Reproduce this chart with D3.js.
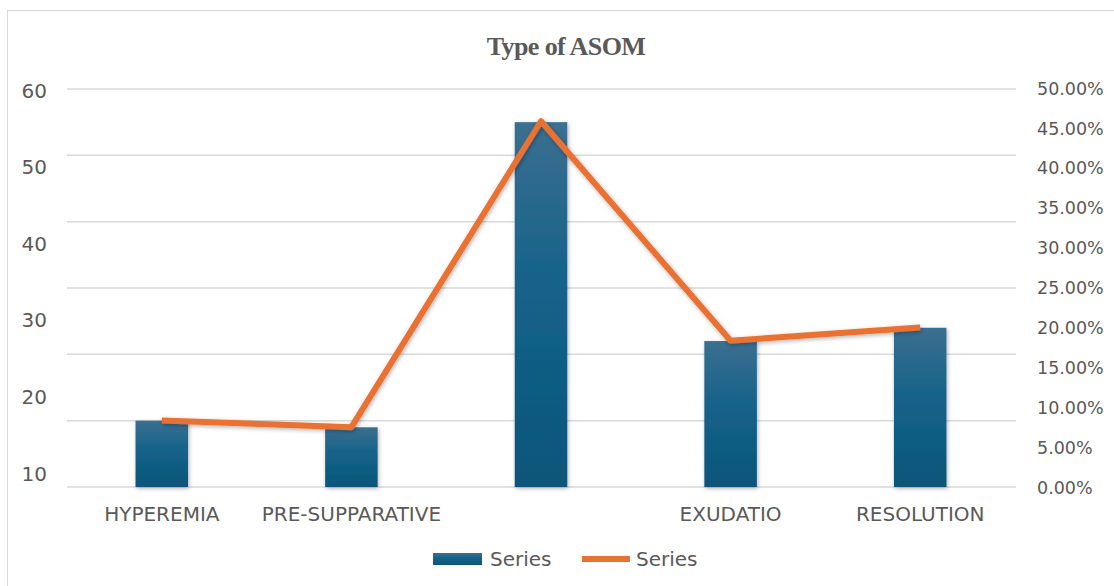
<!DOCTYPE html>
<html>
<head>
<meta charset="utf-8">
<script src="https://cdn.jsdelivr.net/npm/d3@7"></script>
<style>
  html, body { margin: 0; padding: 0; background: #fff; }
  svg { display: block; }
  .axis text { fill: #595959; font-family: "DejaVu Sans", sans-serif; }
</style>
</head>
<body>
<svg id="chart" width="1114" height="586"></svg>
<script>
// Distribution of ASOM stages: counts (bars, left axis) and share (line, right axis)
const categories = ["HYPEREMIA", "PRE-SUPPARATIVE", "", "EXUDATIO", "RESOLUTION"];
const counts = [10, 9, 55, 22, 24];
const percents = [0.0833, 0.075, 0.4583, 0.1833, 0.20];
const leftTickLabels = [60, 50, 40, 30, 20, 10];
const rightTicks = [0, 0.05, 0.10, 0.15, 0.20, 0.25, 0.30, 0.35, 0.40, 0.45, 0.50];
const legendLabels = ["Series", "Series"];

const svg = d3.select("#chart");
const W = 1114, H = 586;

// outer frame
svg.append("rect")
  .attr("x", 7.5).attr("y", 10.5)
  .attr("width", W + 20).attr("height", H + 20)
  .attr("fill", "#fff").attr("stroke", "#d9d9d9").attr("stroke-width", 1);

const defs = svg.append("defs");
const grad = defs.append("linearGradient")
  .attr("id", "barGrad").attr("x1", 0).attr("y1", 0).attr("x2", 0).attr("y2", 1);
grad.append("stop").attr("offset", "0%").attr("stop-color", "#3b6f90");
grad.append("stop").attr("offset", "45%").attr("stop-color", "#14628a");
grad.append("stop").attr("offset", "100%").attr("stop-color", "#0b5579");

const shadow = defs.append("filter").attr("id", "shadow")
  .attr("x", "-20%").attr("y", "-20%").attr("width", "140%").attr("height", "140%");
shadow.append("feDropShadow")
  .attr("dx", 1).attr("dy", 1.5).attr("stdDeviation", 2)
  .attr("flood-color", "#000").attr("flood-opacity", 0.3);

const plot = { left: 67, right: 1015, top: 89, bottom: 487 };

const x = d3.scaleBand()
  .domain(categories)
  .range([plot.left, plot.right])
  .padding(0);

const y = d3.scaleLinear().domain([0, 60]).range([plot.bottom, plot.top]);
const yPct = d3.scaleLinear().domain([0, 0.5]).range([plot.bottom, 88]);
const yLabel = d3.scaleLinear().domain([10, 60]).range([473, 90]);

// gridlines
svg.append("g")
  .selectAll("line")
  .data(y.ticks(6))
  .join("line")
  .attr("x1", plot.left).attr("x2", plot.right + 1)
  .attr("y1", d => y(d)).attr("y2", d => y(d))
  .attr("stroke", "#d9d9d9").attr("stroke-width", 1.5);

// title
svg.append("text")
  .attr("x", 566).attr("y", 55)
  .attr("text-anchor", "middle")
  .attr("font-family", "'Liberation Serif', 'Times New Roman', serif")
  .attr("font-weight", "bold")
  .attr("font-size", 26)
  .attr("letter-spacing", -0.6)
  .attr("fill", "#595959")
  .text("Type of ASOM");

// left axis labels
const leftAxis = svg.append("g")
  .attr("class", "axis")
  .attr("transform", "translate(47,0)")
  .call(d3.axisLeft(yLabel).tickValues(leftTickLabels).tickSize(0).tickPadding(0).tickFormat(d3.format("d")));
leftAxis.select(".domain").remove();
leftAxis.selectAll("text").attr("font-size", 20).attr("dy", "0.35em");

// right axis labels
const rightAxis = svg.append("g")
  .attr("class", "axis")
  .attr("transform", "translate(1037,0)")
  .call(d3.axisRight(yPct).tickValues(rightTicks).tickSize(0).tickPadding(0).tickFormat(d3.format(".2%")));
rightAxis.select(".domain").remove();
rightAxis.selectAll("text").attr("font-size", 17.5).attr("dy", "0.35em");

// category labels
const bottomAxis = svg.append("g")
  .attr("class", "axis")
  .attr("transform", `translate(0,${plot.bottom})`)
  .call(d3.axisBottom(x).tickSize(0).tickPadding(0));
bottomAxis.select(".domain").remove();
bottomAxis.selectAll("text").attr("font-size", 20).attr("y", 34).attr("dy", 0);

// bars
const barW = x.bandwidth() * 0.277;
svg.append("g")
  .selectAll("rect")
  .data(counts)
  .join("rect")
  .attr("x", (d, i) => x(categories[i]) + x.bandwidth() / 2 - barW / 2)
  .attr("y", d => y(d))
  .attr("width", barW)
  .attr("height", d => y(0) - y(d))
  .attr("fill", "url(#barGrad)")
  .attr("filter", "url(#shadow)");

// percentage line
const line = d3.line()
  .x((d, i) => x(categories[i]) + x.bandwidth() / 2)
  .y(d => yPct(d));
svg.append("path")
  .datum(percents)
  .attr("d", line)
  .attr("fill", "none")
  .attr("stroke", "#e97132")
  .attr("stroke-width", 6)
  .attr("stroke-linejoin", "round")
  .attr("stroke-linecap", "butt")
  .attr("filter", "url(#shadow)");

// legend
const legend = svg.append("g").attr("font-family", "'DejaVu Sans', sans-serif");
legend.append("rect")
  .attr("x", 433).attr("y", 553).attr("width", 49).attr("height", 12)
  .attr("fill", "url(#barGrad)");
legend.append("text")
  .attr("x", 490).attr("y", 566)
  .attr("font-size", 20).attr("fill", "#595959")
  .text(legendLabels[0]);
legend.append("line")
  .attr("x1", 582).attr("x2", 630).attr("y1", 559).attr("y2", 559)
  .attr("stroke", "#e97132").attr("stroke-width", 6);
legend.append("text")
  .attr("x", 636).attr("y", 566)
  .attr("font-size", 20).attr("fill", "#595959")
  .text(legendLabels[1]);
</script>
</body>
</html>
